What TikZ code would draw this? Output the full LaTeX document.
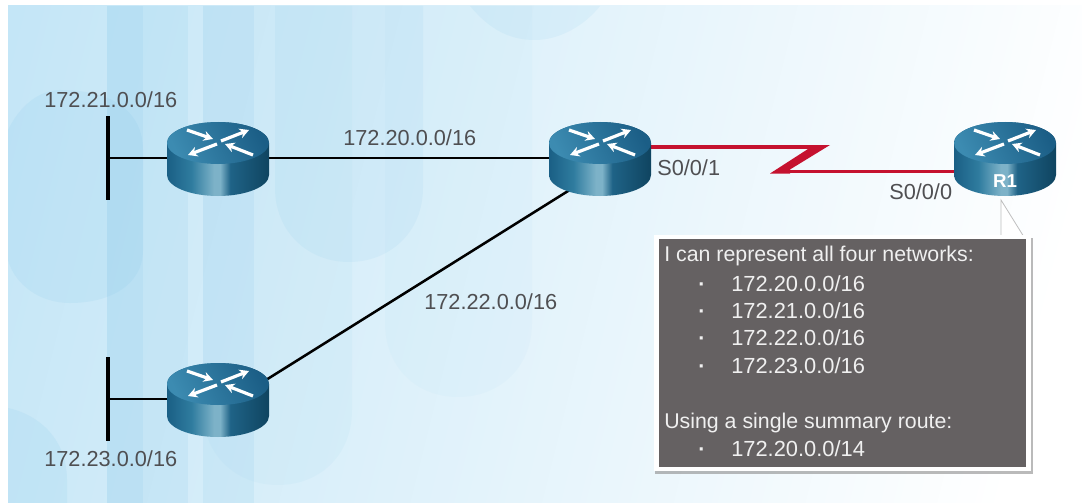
\documentclass[tikz,border=0pt]{standalone}
\usepackage{fontspec}
\setmainfont{Liberation Sans}
\usetikzlibrary{arrows.meta,calc}
\definecolor{labelgray}{HTML}{4F4F52}
\definecolor{boxgray}{HTML}{656162}
\definecolor{boxtext}{HTML}{F0F0F0}
\definecolor{serialred}{HTML}{C5122F}
\definecolor{blob}{HTML}{8CCBEB}
\definecolor{panelblue}{RGB}{192,228,246}
\definecolor{panelmid}{RGB}{208,234,248}
\definecolor{rb1}{HTML}{1A5F85}
\definecolor{rb2}{HTML}{2F7C9F}
\definecolor{rb3}{HTML}{7DB2C8}
\definecolor{rb4}{HTML}{1F6387}
\definecolor{rb5}{HTML}{0F4460}
\definecolor{rt1}{HTML}{3C8BB1}
\definecolor{rt2}{HTML}{1B5E86}
\pgfdeclarehorizontalshading{routerbody}{100bp}{
 color(0bp)=(rb1); color(25bp)=(rb1); color(37bp)=(rb2); color(48bp)=(rb3); color(51bp)=(rb3);
 color(56bp)=(rb4); color(75bp)=(rb5); color(100bp)=(rb5)}
\tikzset{
 x=0.75pt,y=-0.75pt,
 netlabel/.style={anchor=base west,inner sep=0pt,text=labelgray,font=\fontsize{16.3}{19}\selectfont},
 boxline/.style={anchor=base west,inner sep=0pt,text=boxtext,font=\fontsize{16}{19}\selectfont},
 boxnum/.style={boxline,font=\fontsize{16.4}{19}\selectfont},
 routerbox/.style={minimum width=76.5pt,minimum height=55.5pt,inner sep=0pt},
 lanbar/.style={fill=black,minimum width=2.4pt,minimum height=63pt,inner sep=0pt},
 wire/.style={draw=black,line width=2pt},
 serial/.style={draw=serialred,line width=2.6pt},
 routerarrow/.style={draw=white,line width=2.4pt,-{Stealth[length=7pt,width=7.5pt]}},
 blobshape/.style={fill=blob,opacity=.16},
}
\newcommand{\routerart}[2]{%
 \begin{scope}[shift={(#1,#2)}]
  \shade[shading=routerbody] (-51,-15) -- (-51,17) arc[start angle=180,end angle=0,x radius=51,y radius=21] -- (51,-15) arc[start angle=0,end angle=-180,x radius=51,y radius=21] -- cycle;
  \shade[left color=rt1,right color=rt2,shading angle=115] (0,-15) ellipse[x radius=51,y radius=21];
  \draw[routerarrow] (-31,-28) -- (-5,-19);
  \draw[routerarrow] (3,-17) -- (31,-28);
  \draw[routerarrow] (-1,-14) -- (-30,-3);
  \draw[routerarrow] (35,-3) -- (7,-14);
 \end{scope}}
\begin{document}
\begin{tikzpicture}
\useasboundingbox (0,0) rectangle (1082,503);
\fill[white] (0,0) rectangle (1082,503);
\begin{scope}
 \clip (8,6) rectangle (1082,503);
 \shade[left color=panelblue,middle color=panelmid,right color=white,transform canvas={rotate around={-14:(545,250)}}] (-100,-500) rectangle (1050,1000);
 \fill[blobshape] (60,90) .. controls (110,90) and (143,110) .. (143,150) -- (143,250) .. controls (143,285) and (110,303) .. (70,303) .. controls (40,303) and (15,285) .. (8,260) -- (8,130) .. controls (20,105) and (40,90) .. (60,90);
 \fill[blobshape] (107,6) rectangle (143,503);
 \fill[blobshape] (107,6) rectangle (188,503);
 \fill[blobshape] (203,6) rectangle (254,503);
 \fill[blobshape,opacity=.08] (203,6) -- (352,6) -- (352,410) .. controls (352,455) and (320,485) .. (278,485) .. controls (236,485) and (203,455) .. (203,410) -- cycle;
 \fill[blobshape,opacity=.12] (275,6) -- (423,6) -- (423,188) .. controls (423,232) and (390,262) .. (349,262) .. controls (308,262) and (275,232) .. (275,188) -- cycle;
 \fill[blobshape,opacity=.05] (385,6) -- (532,6) -- (532,323) .. controls (532,367) and (500,397) .. (458,397) .. controls (416,397) and (385,367) .. (385,323) -- cycle;
 \fill[blobshape] (8,408) .. controls (40,415) and (67,440) .. (67,480) -- (67,503) -- (8,503) -- cycle;
 \fill[blobshape,opacity=.12] (470,6) .. controls (490,30) and (510,40) .. (535,40) .. controls (560,40) and (585,25) .. (600,6) -- cycle;
\end{scope}

\node[routerbox] (r1) at (218,158) {};
\node[routerbox] (r2) at (600,158) {};
\node[routerbox] (r3) at (218,399) {};
\node[routerbox] (r4) at (1005,158) {};
\node[lanbar] (lan1) at (108,158) {};
\node[lanbar] (lan2) at (108,399) {};

\draw[wire] (lan1) -- (r1);
\draw[wire] (r1) -- (r2);
\draw[wire] (lan2) -- (r3);
\draw[wire,line width=1.9pt] ($(r3.center)+(0,11)$) -- ($(r2.center)+(0,13)$);
\draw[serial] ($(r2.center)+(0,-11)$) -- (812,147);
\draw[serial] ($(r4.center)+(0,13.5)$) -- (785,171.5);
\fill[serialred] (830,145) -- (808,145) -- (808,149) -- (770,173.5) -- (790,173.5) -- (790,169.5) -- cycle;

\routerart{218}{158}
\routerart{600}{158}
\routerart{218}{399}
\routerart{1005}{158}

\node[anchor=center,inner sep=0pt,text=white,font=\fontsize{14}{16}\selectfont\bfseries] (r1name) at (1005,181) {R1};

\node[netlabel] (n21) at (44,108) {172.21.0.0/16};
\node[netlabel] (n20) at (343,145) {172.20.0.0/16};
\node[netlabel] (n22) at (424,309) {172.22.0.0/16};
\node[netlabel] (n23) at (44,466.5) {172.23.0.0/16};
\node[netlabel] (s1) at (657,175) {S0/0/1};
\node[netlabel] (s0) at (889,199) {S0/0/0};

% callout
\fill[black!45,opacity=.6] (655,238) rectangle (1033,474);
\path[fill=white,draw=black!25,line width=.6pt] (1001,200) -- (1001,237) -- (1024,237) -- cycle;
\fill[white] (654,235) rectangle (1031,471);
\node[fill=boxgray,minimum width=275.25pt,minimum height=171pt,inner sep=0pt] (box) at (842.5,353) {};

\node[boxline] (t0) at (664,261.5) {I can represent all four networks:};
\node[boxline] (b1) at (698,291.5) {\textbf{·}};
\node[boxnum] (t1) at (731,291.5) {172.20.0.0/16};
\node[boxline] (b2) at (698,318.5) {\textbf{·}};
\node[boxnum] (t2) at (731,318.5) {172.21.0.0/16};
\node[boxline] (b3) at (698,345.5) {\textbf{·}};
\node[boxnum] (t3) at (731,345.5) {172.22.0.0/16};
\node[boxline] (b4) at (698,373.5) {\textbf{·}};
\node[boxnum] (t4) at (731,373.5) {172.23.0.0/16};
\node[boxline] (t5) at (664,428.5) {Using a single summary route:};
\node[boxline] (b5) at (698,456.5) {\textbf{·}};
\node[boxnum] (t6) at (731,456.5) {172.20.0.0/14};
\end{tikzpicture}
\end{document}
